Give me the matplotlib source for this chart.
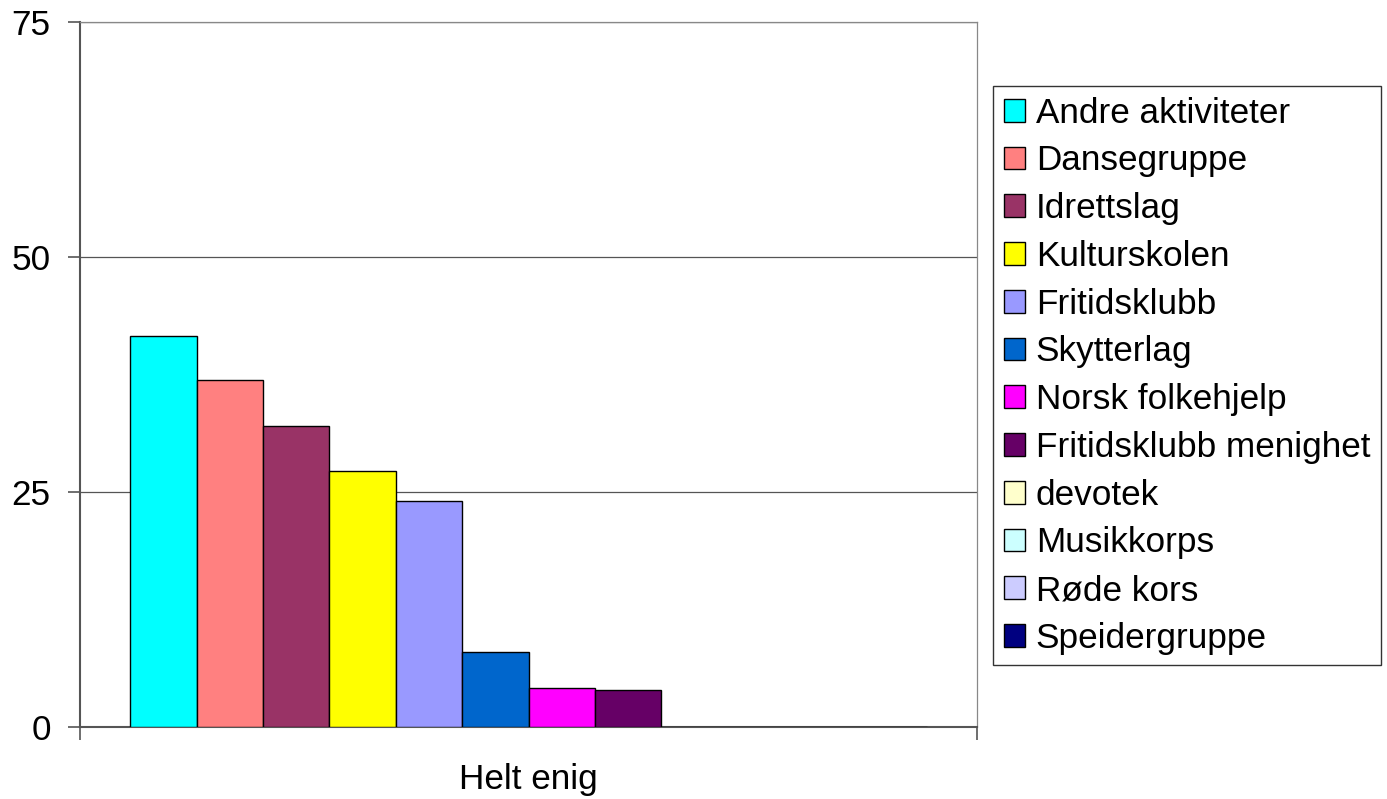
import numpy as np
import matplotlib
matplotlib.use("Agg")
import matplotlib.pyplot as plt

plt.rcParams['font.family'] = ['Liberation Sans', 'DejaVu Sans']

kategori = "Helt enig"
aktiviteter = ["Andre aktiviteter", "Dansegruppe", "Idrettslag", "Kulturskolen",
               "Fritidsklubb", "Skytterlag", "Norsk folkehjelp", "Fritidsklubb menighet",
               "devotek", "Musikkorps", "Røde kors", "Speidergruppe"]
verdier = [41.6, 36.9, 32.0, 27.2, 24.0, 8.0, 4.1, 3.9, 0, 0, 0, 0]
farger = ["#00FFFF", "#FF8080", "#993366", "#FFFF00", "#9999FF", "#0066CC",
          "#FF00FF", "#660066", "#FFFFCC", "#CCFFFF", "#CCCCFF", "#000080"]
yticks = [0, 25, 50, 75]

fs = 25.3

fig = plt.figure(figsize=(13.87, 7.99), dpi=100)
ax = fig.add_axes([80/1387, 1-727/799, (977-80)/1387, (727-22)/799])

x = np.arange(len(verdier))
for i in range(len(verdier)):
    ax.bar(x[i], verdier[i], width=1.0, color=farger[i], edgecolor="black",
           linewidth=1.0, label=aktiviteter[i], zorder=3)

# luft på begge sider av gruppen
ax.set_xlim(-0.5-0.755, len(verdier)-0.5+0.755)
ax.set_ylim(0, 75)
ax.set_yticks(yticks)
ax.yaxis.grid(True, color="#555555", linewidth=0.9, zorder=0)
ax.tick_params(axis="y", labelsize=fs, length=9, width=1.2, color="#555555", pad=12)
ax.set_xticks([(len(verdier)-1)/2])
ax.set_xticklabels([kategori], fontsize=fs)
ax.tick_params(axis="x", length=0, pad=26)
ax.set_xticks(list(ax.get_xlim()), minor=True)
ax.tick_params(axis="x", which="minor", length=9, width=1.2, color="#555555")
for s in ["left", "bottom"]:
    ax.spines[s].set_color("#555555")
    ax.spines[s].set_linewidth(1.5)
for s in ["top", "right"]:
    ax.spines[s].set_color("#888888")
    ax.spines[s].set_linewidth(0.9)

leg = ax.legend(loc="upper left", bbox_to_anchor=(993/1387, 1-86/799),
                bbox_transform=fig.transFigure, fontsize=fs, frameon=True,
                fancybox=False, edgecolor="black", borderaxespad=0,
                handlelength=0.62, handleheight=0.62, handletextpad=0.3,
                labelspacing=0.42, borderpad=0.3)
leg.get_frame().set_linewidth(1.0)

fig.savefig("out.png", dpi=100)
